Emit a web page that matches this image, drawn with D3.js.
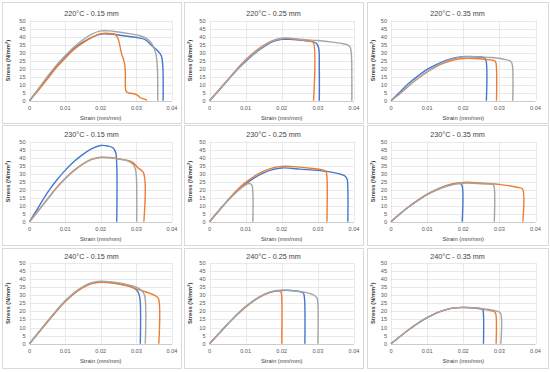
<!DOCTYPE html>
<html>
<head>
<meta charset="utf-8">
<script src="https://cdn.jsdelivr.net/npm/d3@7"></script>
<style>
    body { margin: 0; background: #fff; }
    svg text { font-family: "Liberation Sans", Arial, sans-serif; }
</style>
</head>
<body>
<div id="chart"></div>
<script>
(function () {
    'use strict';

    // tick labels shared by every panel
    var xTicks = [0, 0.01, 0.02, 0.03, 0.04];
    var yTicks = [0, 5, 10, 15, 20, 25, 30, 35, 40, 45, 50];

    var temps = ["220°C", "230°C", "240°C"];
    var layers = ["0.15 mm", "0.25 mm", "0.35 mm"];

    // [strain, stress]; a = blue, b = orange, c = gray
    var p220_15_a = [[0,0],[0.0025,7],[0.005,14],[0.0075,21],[0.01,27],[0.0125,32.5],[0.015,36.5],[0.0175,39.5],[0.02,41.5],[0.0225,41.5],[0.025,41],[0.028,40],[0.031,39],[0.0325,38],[0.0345,34],[0.036,31],[0.037,28],[0.0374,22],[0.0375,0]];
    var p220_15_b = [[0,0],[0.0025,6.5],[0.005,13.5],[0.0075,20.5],[0.01,26.5],[0.0125,32],[0.015,36],[0.0175,39.5],[0.02,41.8],[0.022,42],[0.024,41.5],[0.0248,39],[0.0253,35],[0.0258,29.5],[0.0266,24],[0.0269,18],[0.0271,6],[0.0278,4.8],[0.029,4.5],[0.0303,3.5],[0.031,2],[0.0322,1],[0.033,0.3]];
    var p220_15_c = [[0,0],[0.0025,7.5],[0.005,15],[0.0075,22],[0.01,28],[0.0125,33.5],[0.015,38],[0.0175,41.5],[0.02,43.5],[0.0225,43.5],[0.025,42.8],[0.028,41.8],[0.031,40.5],[0.033,38.5],[0.0345,35],[0.0355,29],[0.0359,20],[0.036,0]];

    var p220_25_a = [[0,0],[0.0025,6],[0.005,12.5],[0.0075,19],[0.01,24.5],[0.0125,29.5],[0.015,33.5],[0.0175,36.8],[0.02,38.2],[0.022,38.3],[0.025,37.8],[0.028,37],[0.0295,36],[0.0302,33],[0.0304,20],[0.0304,0]];
    var p220_25_b = [[0,0],[0.0025,6.5],[0.005,13],[0.0075,19.5],[0.01,25.5],[0.0125,30.5],[0.015,34.5],[0.0175,37.5],[0.02,38.8],[0.022,38.8],[0.025,38],[0.028,37],[0.0287,36.5],[0.0288,0]];
    var p220_25_c = [[0,0],[0.0025,6.3],[0.005,12.8],[0.0075,19.3],[0.01,25],[0.0125,30],[0.015,34],[0.0175,37.3],[0.02,38.8],[0.022,39],[0.025,38.3],[0.03,37.5],[0.034,36.5],[0.037,35.5],[0.0385,34.5],[0.039,33],[0.0393,28],[0.0394,15],[0.0394,0]];

    var p220_35_a = [[0,0],[0.0025,5.5],[0.005,11],[0.0075,15.5],[0.01,19.5],[0.0125,22.5],[0.015,25],[0.0175,26.7],[0.02,27.5],[0.023,27.3],[0.0258,26.8],[0.0263,25],[0.0264,0]];
    var p220_35_b = [[0,0],[0.0025,4.5],[0.005,9.5],[0.0075,14],[0.01,18],[0.0125,21.3],[0.015,23.8],[0.0175,25.5],[0.02,26.3],[0.023,26.3],[0.027,25.6],[0.0288,24.8],[0.0291,23],[0.0292,0]];
    var p220_35_c = [[0,0],[0.0025,4.5],[0.005,9.5],[0.0075,14],[0.01,18],[0.0125,21.5],[0.015,24.3],[0.0175,26.3],[0.02,27.3],[0.023,27.5],[0.027,27],[0.031,26],[0.0332,24.5],[0.0336,22],[0.0337,0]];

    var p230_15_a = [[0,0],[0.0025,9],[0.005,18],[0.0075,25.5],[0.01,32],[0.0125,37.5],[0.015,42],[0.0175,45.5],[0.02,47.5],[0.022,47.2],[0.0235,46],[0.0242,43],[0.0245,35],[0.0245,0]];
    var p230_15_b = [[0,0],[0.0025,7],[0.005,14],[0.0075,21],[0.01,27],[0.0125,32],[0.015,36],[0.0175,39],[0.02,40.2],[0.0225,40],[0.025,39.3],[0.0275,38.2],[0.029,37],[0.0305,33.5],[0.032,30.5],[0.0321,0]];
    var p230_15_c = [[0,0],[0.0025,6.8],[0.005,13.8],[0.0075,20.8],[0.01,26.8],[0.0125,31.8],[0.015,35.8],[0.0175,38.8],[0.02,40],[0.0225,39.8],[0.025,39],[0.0275,38],[0.029,36],[0.0297,33],[0.03,28],[0.0301,0]];

    var p230_25_a = [[0,0],[0.0025,6.5],[0.005,13],[0.0075,18.8],[0.01,23.5],[0.0125,27.5],[0.015,30.5],[0.0175,32.5],[0.02,33.5],[0.0225,33.3],[0.025,32.8],[0.03,32],[0.033,31.2],[0.036,29.8],[0.0375,28.5],[0.0381,26.5],[0.0383,20],[0.0383,0]];
    var p230_25_b = [[0,0],[0.0025,6.8],[0.005,13.3],[0.0075,19.5],[0.01,24.5],[0.0125,28.5],[0.015,31.5],[0.0175,33.5],[0.02,34.5],[0.0225,34.5],[0.025,34],[0.0285,33.2],[0.031,32.5],[0.0322,31.5],[0.0325,28],[0.0325,0]];
    var p230_25_c = [[0,0],[0.0025,6.5],[0.005,13],[0.0075,18.5],[0.01,23],[0.011,23.8],[0.0117,23],[0.012,18],[0.012,0]];

    var p230_35_a = [[0,0],[0.0025,5],[0.005,9.5],[0.0075,13.5],[0.01,17],[0.0125,19.8],[0.015,22],[0.0175,23.5],[0.019,24],[0.0196,23],[0.0197,0]];
    var p230_35_b = [[0,0],[0.0025,5],[0.005,9.5],[0.0075,13.5],[0.01,17],[0.0125,20],[0.015,22.3],[0.0175,23.8],[0.02,24.5],[0.0225,24.5],[0.026,24],[0.03,23.3],[0.033,22.3],[0.0355,21.2],[0.0364,20.5],[0.0365,0]];
    var p230_35_c = [[0,0],[0.0025,4.8],[0.005,9.3],[0.0075,13.3],[0.01,16.8],[0.0125,19.6],[0.015,21.8],[0.0175,23.3],[0.02,24],[0.0225,24],[0.026,23.5],[0.0283,23],[0.0286,21],[0.0286,0]];

    var p240_15_a = [[0,0],[0.0025,6.8],[0.005,13.5],[0.0075,20.2],[0.01,26.3],[0.0125,31.2],[0.015,35],[0.0175,37.5],[0.02,38.3],[0.0225,38],[0.025,37.3],[0.0275,36],[0.0295,34.2],[0.0305,32],[0.031,28],[0.0311,0]];
    var p240_15_b = [[0,0],[0.0025,6.7],[0.005,13.3],[0.0075,20],[0.01,26],[0.0125,31],[0.015,34.8],[0.0175,37.2],[0.02,38],[0.0225,37.8],[0.025,37],[0.0275,35.8],[0.03,34],[0.032,32.5],[0.034,31],[0.0355,29.5],[0.0362,28],[0.0363,0]];
    var p240_15_c = [[0,0],[0.0025,7],[0.005,13.8],[0.0075,20.5],[0.01,26.6],[0.0125,31.5],[0.015,35.3],[0.0175,37.8],[0.02,38.7],[0.0225,38.4],[0.025,37.7],[0.0275,36.6],[0.03,35],[0.0315,33],[0.0323,30],[0.0325,0]];

    var p240_25_a = [[0,0],[0.0025,6],[0.005,12],[0.0075,17.8],[0.01,22.8],[0.0125,27],[0.015,30.2],[0.0175,32.3],[0.02,33],[0.0225,33],[0.025,32.3],[0.026,31.3],[0.0263,28],[0.0264,0]];
    var p240_25_b = [[0,0],[0.0025,6],[0.005,12],[0.0075,17.8],[0.01,22.8],[0.0125,27],[0.015,30.2],[0.0175,32.3],[0.019,33],[0.0198,32],[0.02,28],[0.02,0]];
    var p240_25_c = [[0,0],[0.0025,6.1],[0.005,12.2],[0.0075,18],[0.01,23],[0.0125,27.2],[0.015,30.4],[0.0175,32.5],[0.02,33.2],[0.0225,33],[0.026,32],[0.0285,30.5],[0.0297,28.5],[0.03,25],[0.03,0]];

    var p240_35_a = [[0,0],[0.0025,4.5],[0.005,8.8],[0.0075,12.8],[0.01,16.2],[0.0125,19],[0.015,21],[0.0175,22.2],[0.02,22.5],[0.0225,22.3],[0.0245,21.8],[0.0254,21],[0.0256,18],[0.0256,0]];
    var p240_35_b = [[0,0],[0.0025,4.5],[0.005,8.8],[0.0075,12.8],[0.01,16.2],[0.0125,19],[0.015,21],[0.0175,22.2],[0.02,22.4],[0.0225,22.2],[0.025,21.5],[0.0275,20.5],[0.0288,19.5],[0.0291,17],[0.0291,0]];
    var p240_35_c = [[0,0],[0.0025,4.5],[0.005,8.8],[0.0075,12.8],[0.01,16.2],[0.0125,19],[0.015,21],[0.0175,22.2],[0.02,22.5],[0.0225,22.3],[0.025,21.8],[0.0275,21],[0.0295,20],[0.0303,19],[0.0304,0]];

    var seriesColors = ["#4478cf", "#ed7d31", "#a5a5a5"];

    // rows = temperature, columns = layer height
    var panelData = [
        [[p220_15_a, p220_15_b, p220_15_c], [p220_25_a, p220_25_b, p220_25_c], [p220_35_a, p220_35_b, p220_35_c]],
        [[p230_15_a, p230_15_b, p230_15_c], [p230_25_a, p230_25_b, p230_25_c], [p230_35_a, p230_35_b, p230_35_c]],
        [[p240_15_a, p240_15_b, p240_15_c], [p240_25_a, p240_25_b, p240_25_c], [p240_35_a, p240_35_b, p240_35_c]]
    ];

    // layout of the 3x3 grid
    var boxX = [2, 184, 367], boxW = [179, 179, 181];
    var boxY = [2, 125, 248], boxH = [121, 120, 120];
    var plotL = [29.5, 209.5, 391], plotR = [172, 354, 535.5];
    var plotT = [20.5, 141.5, 263], plotB = [100.7, 221.7, 343.7];

    var svg = d3.select("#chart")
        .append("svg")
        .attr("width", 550)
        .attr("height", 372);

    for (var r = 0; r < 3; r++) {
        for (var c = 0; c < 3; c++) {
            drawPanel(r, c);
        }
    }

    function drawPanel(r, c) {
        var x = d3.scaleLinear().domain([0, 0.04]).range([plotL[c], plotR[c]]);
        var y = d3.scaleLinear().domain([0, 50]).range([plotB[r], plotT[r]]);
        var g = svg.append("g");

        g.append("rect")
            .attr("x", boxX[c] + 0.5)
            .attr("y", boxY[r] + 0.5)
            .attr("width", boxW[c])
            .attr("height", boxH[r])
            .attr("fill", "#fff")
            .attr("stroke", "#d9d9d9")
            .attr("stroke-width", 1);

        // gridlines
        g.selectAll("line.hgrid")
            .data(yTicks)
            .enter()
            .append("line")
            .attr("class", "hgrid")
            .attr("x1", plotL[c])
            .attr("x2", plotR[c])
            .attr("y1", function (d) { return Math.round(y(d)) + 0.5; })
            .attr("y2", function (d) { return Math.round(y(d)) + 0.5; })
            .attr("stroke", function (d) { return d === 0 ? "#bfbfbf" : "#e3e3e3"; })
            .attr("stroke-width", 0.8);

        g.selectAll("line.vgrid")
            .data(xTicks)
            .enter()
            .append("line")
            .attr("class", "vgrid")
            .attr("x1", function (d) { return Math.round(x(d)) + 0.5; })
            .attr("x2", function (d) { return Math.round(x(d)) + 0.5; })
            .attr("y1", plotT[r])
            .attr("y2", plotB[r])
            .attr("stroke", "#e3e3e3")
            .attr("stroke-width", 0.8);

        // tick labels
        g.selectAll("text.ylab")
            .data(yTicks)
            .enter()
            .append("text")
            .attr("class", "ylab")
            .attr("x", plotL[c] - 4)
            .attr("y", function (d) { return y(d) + 2; })
            .attr("text-anchor", "end")
            .attr("font-size", "5.6px")
            .attr("fill", "#595959")
            .text(function (d) { return d; });

        g.selectAll("text.xlab")
            .data(xTicks)
            .enter()
            .append("text")
            .attr("class", "xlab")
            .attr("x", function (d) { return x(d); })
            .attr("y", plotB[r] + 9.3)
            .attr("text-anchor", "middle")
            .attr("font-size", "5.6px")
            .attr("fill", "#595959")
            .text(function (d) { return d; });

        // titles
        g.append("text")
            .attr("x", boxX[c] + boxW[c] / 2)
            .attr("y", plotT[r] - 4.5)
            .attr("text-anchor", "middle")
            .attr("font-size", "7.2px")
            .attr("fill", "#404040")
            .text(temps[r] + " - " + layers[c]);

        g.append("text")
            .attr("x", (plotL[c] + plotR[c]) / 2)
            .attr("y", plotB[r] + 19)
            .attr("text-anchor", "middle")
            .attr("font-size", "5.8px")
            .attr("fill", "#404040")
            .text("Strain (mm/mm)");

        var yTitle = g.append("text")
            .attr("transform", "translate(" + (boxX[c] + 8) + "," + ((plotT[r] + plotB[r]) / 2) + ") rotate(-90)")
            .attr("text-anchor", "middle")
            .attr("font-size", "5.8px")
            .attr("font-weight", "bold")
            .attr("fill", "#404040");
        yTitle.append("tspan").text("Stress (N/mm");
        yTitle.append("tspan").attr("dy", -2).attr("font-size", "4px").text("2");
        yTitle.append("tspan").attr("dy", 2).text(")");

        // curves
        var line = d3.line()
            .x(function (d) { return x(d[0]); })
            .y(function (d) { return y(d[1]); })
            .curve(d3.curveCatmullRom.alpha(0.5));

        g.selectAll("path.curve")
            .data(panelData[r][c])
            .enter()
            .append("path")
            .attr("class", "curve")
            .attr("d", line)
            .attr("fill", "none")
            .attr("stroke", function (d, i) { return seriesColors[i]; })
            .attr("stroke-width", 1.4)
            .attr("stroke-linejoin", "round");
    }
})();
</script>
</body>
</html>
